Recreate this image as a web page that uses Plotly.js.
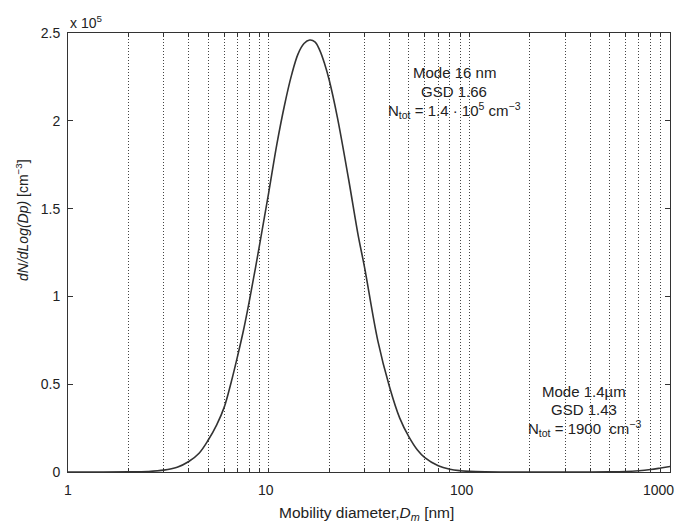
<!DOCTYPE html>
<html>
<head>
<meta charset="utf-8">
<script src="https://cdn.plot.ly/plotly-3.0.1.min.js"></script>
<style>html,body{margin:0;padding:0;background:#fff;}#chart{width:675px;height:523px;}</style>
</head>
<body>
<div id="chart"></div>
<script>
// Mobility diameter [nm]
var diameter = [1, 1.5, 2, 2.5, 3, 3.5, 4, 4.5, 5, 5.5, 6, 6.5, 7, 7.5, 8, 9, 10, 11, 12, 13, 14, 15, 16, 17, 18, 19, 20, 22, 25, 28, 30, 35, 40, 45, 50, 55, 60, 70, 80, 90, 100, 120, 150, 200, 300, 400, 500, 600, 700, 800, 900, 1000];
// dN/dLog(Dp) [cm^-3]
var dndlogdp = [0, 0, 55, 300, 1050, 2750, 6000, 10700, 18200, 26700, 36800, 51000, 66000, 81000, 97000, 129000, 159000, 187000, 209000, 226000, 238000, 244000, 246000, 245000, 240000, 232500, 223500, 202000, 167000, 134000, 117000, 74700, 48600, 30700, 20000, 12700, 8200, 3550, 1590, 740, 350, 90, 14, 1, 1, 10, 80, 300, 750, 1430, 2280, 3100];

var xGridVals = [1,2,3,4,5,6,7,8,9,10,20,30,40,50,60,70,80,90,100,200,300,400,500,600,700,800,900,1000];
var xLabelVals = [1, 10, 100, 1000];
var xLabelText = ['1', '10', '100', '1000'];
var yTickVals = [0, 50000, 100000, 150000, 200000, 250000];
var yTickText = ['0', '0.5', '1', '1.5', '2', '2.5'];

var font = 'Liberation Sans, Arial, Helvetica, sans-serif';
var xShifts = [0, -3, -7, -12];

var annotations = xLabelVals.map(function (v, i) {
  return {xref: 'x', yref: 'paper', x: Math.log10(v), y: -0.041, xshift: xShifts[i],
    text: xLabelText[i], showarrow: false, xanchor: 'center', yanchor: 'middle',
    font: {family: font, size: 14, color: '#222'}};
});

function note(txt, px, py) {
  return {xref: 'paper', yref: 'paper', x: (px - 68) / 602, y: (472 - py) / 439,
    text: txt, showarrow: false, xanchor: 'center', yanchor: 'middle',
    font: {family: font, size: 15, color: '#222'}};
}
annotations.push(note('Mode 16 nm', 454, 72));
annotations.push(note('GSD 1.66', 454, 91));
annotations.push(note('N<sub>tot</sub> = 1.4 · 10<sup>5</sup> cm<sup>−3</sup>', 454, 110));
annotations.push(note('Mode 1.4µm', 584, 391));
annotations.push(note('GSD 1.43', 584, 409));
annotations.push(note('N<sub>tot</sub> = 1900  cm<sup>−3</sup>', 584, 428));

annotations.push({xref: 'paper', yref: 'paper', x: 0, y: (472 - 22) / 439, xanchor: 'left', yanchor: 'middle',
  text: 'x 10<sup>5</sup>', showarrow: false, font: {family: font, size: 14, color: '#222'}});
annotations.push({xref: 'paper', yref: 'paper', x: (22 - 68) / 602, y: (472 - 220) / 439, xanchor: 'center', yanchor: 'middle',
  textangle: -90, text: '<i>dN/dLog(Dp)</i> [cm<sup>−3</sup>]', showarrow: false, font: {family: font, size: 14, color: '#222'}});
annotations.push({xref: 'paper', yref: 'paper', x: (366 - 68) / 602, y: (472 - 513) / 439, xanchor: 'center', yanchor: 'middle',
  text: 'Mobility diameter,<i>D<sub>m</sub></i> [nm]', showarrow: false, font: {family: font, size: 15.5, color: '#222'}});

var trace = {x: diameter, y: dndlogdp, type: 'scatter', mode: 'lines',
  line: {color: '#333', width: 1.6, shape: 'spline', smoothing: 1}, hoverinfo: 'skip'};

var layout = {
  width: 675, height: 523,
  margin: {l: 68, r: 5, t: 33, b: 51, pad: 0},
  paper_bgcolor: '#fff', plot_bgcolor: '#fff',
  showlegend: false,
  xaxis: {type: 'log', range: [0, 3], tickmode: 'array', tickvals: xGridVals, showticklabels: false,
    ticks: 'inside', ticklen: 4, tickcolor: '#333', showgrid: true, gridcolor: '#444', griddash: '1px,2px', gridwidth: 1,
    showline: true, linecolor: '#333', linewidth: 1, mirror: 'ticks', zeroline: false},
  yaxis: {range: [0, 250000], tickmode: 'array', tickvals: yTickVals, ticktext: yTickText,
    ticks: 'inside', ticklen: 5, tickcolor: '#333', showgrid: false, zeroline: false,
    showline: true, linecolor: '#333', linewidth: 1, mirror: 'ticks', ticklabelstandoff: 4,
    tickfont: {family: font, size: 14, color: '#222'}},
  annotations: annotations
};

Plotly.newPlot('chart', [trace], layout, {displayModeBar: false, staticPlot: true});
</script>
</body>
</html>
